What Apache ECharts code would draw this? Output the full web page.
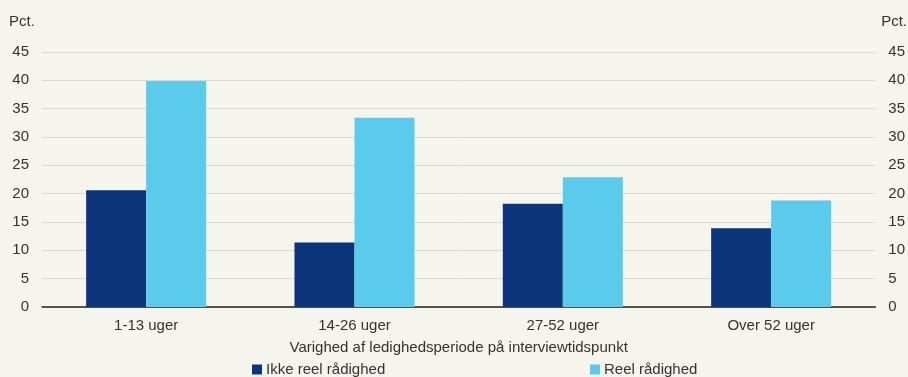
<!DOCTYPE html>
<html>
<head>
<meta charset="utf-8">
<script src="https://cdn.jsdelivr.net/npm/echarts@6/dist/echarts.min.js"></script>
<style>
html,body{margin:0;padding:0;background:#f5f4ed;}
#c{width:908px;height:377px;}
</style>
</head>
<body>
<div id="c"></div>
<script>
var categories = ['1-13 uger', '14-26 uger', '27-52 uger', 'Over 52 uger'];
var ikkeReel = [20.6, 11.4, 18.2, 13.9];
var reel = [39.9, 33.4, 22.9, 18.8];
var seriesNames = ['Ikke reel rådighed', 'Reel rådighed'];
var axisTitle = 'Varighed af ledighedsperiode på interviewtidspunkt';
var unitLabel = 'Pct.';

var font = 'Liberation Sans, Arial, sans-serif';
var txt = '#333333';
var chart = echarts.init(document.getElementById('c'));
var yAxisBase = {
  type: 'value', min: 0, max: 45, interval: 5,
  axisLine: {show: false}, axisTick: {show: false},
  axisLabel: {color: txt, fontSize: 15, fontFamily: font, margin: 13},
  splitLine: {lineStyle: {color: '#d9d9d4', width: 1}}
};
chart.setOption({
  backgroundColor: '#f5f4ed',
  animation: false,
  grid: {left: 42, right: 30, top: 52, bottom: 70},
  graphic: [
    {type: 'text', left: 9, top: 14, style: {text: unitLabel, fill: txt, font: '15px ' + font}},
    {type: 'text', right: 1, top: 14, style: {text: unitLabel, fill: txt, font: '15px ' + font}}
  ],
  legend: [
    {data: [seriesNames[0]], left: 247, top: 357, itemWidth: 10, itemHeight: 10, icon: 'rect', itemGap: 5,
     textStyle: {color: txt, fontSize: 15, fontFamily: font, padding: [0,0,0,-1]}},
    {data: [seriesNames[1]], left: 585, top: 357, itemWidth: 10, itemHeight: 10, icon: 'rect', itemGap: 5,
     textStyle: {color: txt, fontSize: 15, fontFamily: font, padding: [0,0,0,-1]}}
  ],
  xAxis: {
    type: 'category', data: categories,
    name: axisTitle, nameLocation: 'middle', nameGap: 33,
    nameTextStyle: {color: txt, fontSize: 15, fontFamily: font},
    axisLine: {lineStyle: {color: '#222', width: 1.5}},
    axisTick: {lineStyle: {color: '#555'}, length: 5},
    axisLabel: {color: txt, fontSize: 15, fontFamily: font, margin: 11}
  },
  yAxis: [
    Object.assign({}, yAxisBase, {position: 'left'}),
    Object.assign({}, yAxisBase, {position: 'right', splitLine: {show: false}})
  ],
  series: [
    {name: seriesNames[0], type: 'bar', data: ikkeReel, barWidth: 60, barGap: '0%',
     itemStyle: {color: '#0a357a'}},
    {name: seriesNames[1], type: 'bar', data: reel, barWidth: 60, barGap: '0%',
     itemStyle: {color: '#5bcbeb'}}
  ]
});
</script>
</body>
</html>
